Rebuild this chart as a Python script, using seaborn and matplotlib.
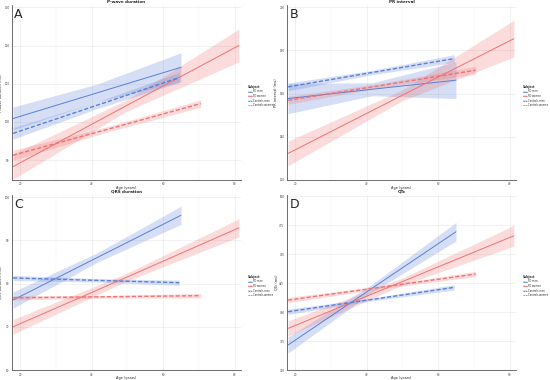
import seaborn as sns
from matplotlib import pyplot as plt
from matplotlib.lines import Line2D
from matplotlib.patches import Patch
import pandas as pd

# groups and colours
subjects = ["FD men", "FD women", "Controls men", "Controls women"]
palette = {"FD men": "#5a7fd6", "FD women": "#f07272",
           "Controls men": "#5a7fd6", "Controls women": "#f07272"}
dashes = {"FD men": "", "FD women": "", "Controls men": (3, 1.5), "Controls women": (3, 1.5)}

# age at start / middle / end of each fitted line
ages = {
    "FD men": [18, 41.5, 65],
    "FD women": [18, 49.6, 81.2],
    "Controls men": [18, 41.3, 64.5],
    "Controls women": [18, 44.2, 70.5],
}

# fitted values (ms) read at those ages, and half-width of the confidence band
p_fit = {"FD men": [100.9, 107.6, 114.3], "FD women": [88.3, 104.2, 120.0],
         "Controls men": [97.0, 104.3, 111.6], "Controls women": [91.3, 98.0, 104.8]}
p_hw = {"FD men": [3.0, 2.3, 3.8], "FD women": [3.3, 1.5, 4.3],
        "Controls men": [1.5, 0.9, 1.3], "Controls women": [1.3, 0.7, 1.0]}

pr_fit = {"FD men": [157.7, 162.0, 166.2], "FD women": [132.3, 158.9, 185.4],
          "Controls men": [163.1, 169.7, 176.2], "Controls women": [156.9, 163.8, 170.8]}
pr_hw = {"FD men": [7.0, 3.0, 8.5], "FD women": [5.7, 2.5, 8.5],
         "Controls men": [1.8, 1.0, 1.8], "Controls women": [1.8, 1.0, 1.8]}

qrs_fit = {"FD men": [76.2, 86.0, 95.8], "FD women": [70.0, 81.4, 92.9],
           "Controls men": [81.3, 80.75, 80.2], "Controls women": [76.7, 76.95, 77.2]}
qrs_hw = {"FD men": [1.9, 1.1, 2.1], "FD women": [1.7, 0.9, 2.1],
          "Controls men": [0.6, 0.4, 0.6], "Controls women": [0.5, 0.3, 0.5]}

qtc_fit = {"FD men": [371.6, 420.5, 469.3], "FD women": [385.9, 425.8, 465.8],
           "Controls men": [400.3, 410.8, 421.3], "Controls women": [410.3, 421.5, 432.8]}
qtc_hw = {"FD men": [7.0, 3.5, 8.0], "FD women": [6.5, 3.0, 9.0],
          "Controls men": [2.3, 1.2, 2.3], "Controls women": [2.3, 1.2, 2.3]}

panels = [
    ("A", "P-wave duration", "P-wave duration (ms)", p_fit, p_hw, (84.8, 130.6), [90, 100, 110, 120, 130]),
    ("B", "PR interval", "PR interval (ms)", pr_fit, pr_hw, (120, 201), [120, 140, 160, 180, 200]),
    ("C", "QRS duration", "QRS duration (ms)", qrs_fit, qrs_hw, (60, 100.5), [60, 70, 80, 90, 100]),
    ("D", "QTc", "QTc (ms)", qtc_fit, qtc_hw, (350, 501), [350, 375, 400, 425, 450, 475, 500]),
]

sns.set_theme(style="whitegrid")
plt.rcParams['font.family'] = ['DejaVu Sans']

fig = plt.figure(figsize=(5.5, 3.8), dpi=100)
W, H = 550, 380
AW, AH = 229, 175
# top-left pixel of each panel's plotting area
origins = [(12, 5), (287, 5), (12, 195), (287, 195)]

for (letter, title, ylabel, fit, hw, ylim, yticks), (px, py) in zip(panels, origins):
    ax = fig.add_axes([px / W, 1 - (py + AH) / H, AW / W, AH / H])

    rows = []
    for s in subjects:
        for a, f, h in zip(ages[s], fit[s], hw[s]):
            rows.append({"age": a, "fit": f, "lo": f - h, "hi": f + h, "subject": s})
    df = pd.DataFrame(rows)

    for s in subjects:
        d = df[df.subject == s]
        ax.fill_between(d.age, d.lo, d.hi, color=palette[s], alpha=0.25, lw=0)

    sns.lineplot(data=df, x="age", y="fit", hue="subject", style="subject",
                 hue_order=subjects, style_order=subjects, palette=palette,
                 dashes=dashes, legend=False, ax=ax, lw=0.7)
    for line in ax.lines[2:]:
        line.set_linewidth(1.0)

    ax.set_xlim(17.7, 81.8)
    ax.set_ylim(*ylim)
    ax.set_xticks([20, 40, 60, 80])
    ax.set_yticks(yticks)
    ax.set_xticks([30, 50, 70], minor=True)
    ax.grid(which="major", color="#e6e6e6", lw=0.4)
    ax.grid(which="minor", color="#f2f2f2", lw=0.3)
    ax.tick_params(labelsize=2.0, length=1, width=0.3, pad=0.8, colors="#444444")
    for side in ["top", "right"]:
        ax.spines[side].set_visible(False)
    for side in ["left", "bottom"]:
        ax.spines[side].set_color("#555555")
        ax.spines[side].set_linewidth(0.6)
    ax.set_facecolor("white")
    ax.set_xlabel("Age (years)", fontsize=2.5)
    ax.set_ylabel(ylabel, fontsize=2.5)
    ax.xaxis.set_label_coords(0.5, -6 / AH)
    ax.yaxis.set_label_coords(-9 / AW, 0.5)
    ax.set_title(title, fontsize=3.0, fontweight="bold", pad=1.5)
    ax.text(0.01, 0.985, letter, transform=ax.transAxes, fontsize=9, va="top", ha="left")

    handles = []
    for s in subjects:
        handles.append((Patch(facecolor=palette[s], alpha=0.25, lw=0),
                        Line2D([], [], color=palette[s], lw=0.6,
                               ls="-" if dashes[s] == "" else (0, (2, 1)))))
    leg = ax.legend(handles, subjects, title="Subject", loc="upper left",
                    bbox_to_anchor=(1.025, 0.55), fontsize=1.8, title_fontsize=2.1,
                    frameon=False, handlelength=1.6, handleheight=0.7,
                    handletextpad=0.5, borderaxespad=0, labelspacing=0.25)
    leg.get_title().set_fontweight("bold")
    leg._legend_box.align = "left"

fig.savefig("out.png", dpi=100, facecolor="white")
